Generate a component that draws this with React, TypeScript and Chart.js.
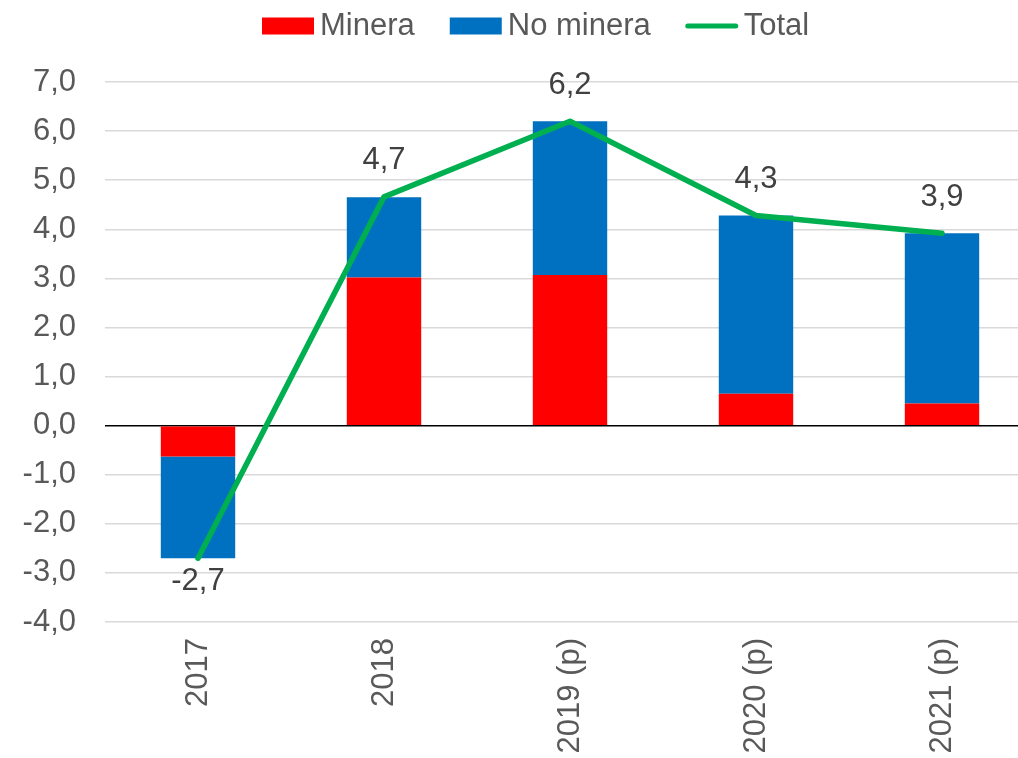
import React, { useEffect, useRef } from "react";
import { Chart, registerables } from "chart.js";

Chart.register(...registerables);

const categories = ["2017", "2018", "2019 (p)", "2020 (p)", "2021 (p)"];
const mineraValues = [-0.63, 3.02, 3.07, 0.65, 0.45];
const noMineraValues = [-2.07, 1.63, 3.13, 3.63, 3.47];
const totalValues = [-2.7, 4.66, 6.2, 4.28, 3.92];

const FONT = "'Liberation Sans', Arial, sans-serif";
const fmt = (v: number) => v.toFixed(1).replace(".", ",");

const legendPlugin = {
  id: "customLegend",
  afterDraw(chart: any) {
    const ctx = chart.ctx;
    ctx.save();
    ctx.font = `31px ${FONT}`;
    ctx.textBaseline = "middle";
    ctx.textAlign = "left";
    const cy = 26;
    let x = 262;
    const items = [
      { text: "Minera", color: "#FF0000", kind: "box" },
      { text: "No minera", color: "#0070C0", kind: "box" },
      { text: "Total", color: "#00B050", kind: "line" },
    ];
    items.forEach((it) => {
      if (it.kind === "box") {
        ctx.fillStyle = it.color;
        ctx.fillRect(x, cy - 8.5, 52, 17);
      } else {
        ctx.strokeStyle = it.color;
        ctx.lineWidth = 5;
        ctx.lineCap = "round";
        ctx.beginPath();
        ctx.moveTo(x + 2, cy);
        ctx.lineTo(x + 50, cy);
        ctx.stroke();
      }
      ctx.fillStyle = "#595959";
      ctx.fillText(it.text, x + 58, cy);
      x += 58 + ctx.measureText(it.text).width + 35;
    });
    ctx.restore();
  },
};

const labelPlugin = {
  id: "totalLabels",
  afterDatasetsDraw(chart: any) {
    const ctx = chart.ctx;
    const meta = chart.getDatasetMeta(2);
    ctx.save();
    ctx.font = `31px ${FONT}`;
    ctx.fillStyle = "#404040";
    ctx.textAlign = "center";
    ctx.textBaseline = "middle";
    meta.data.forEach((pt: any, i: number) => {
      const v = totalValues[i];
      const dy = v < 0 ? 23 : -36;
      ctx.fillText(fmt(v), pt.x, pt.y + dy);
    });
    ctx.restore();
  },
};

export default function App() {
  const ref = useRef<HTMLCanvasElement | null>(null);
  useEffect(() => {
    if (!ref.current) return;
    const chart = new Chart(ref.current, {
      type: "bar",
      data: {
        labels: categories,
        datasets: [
          {
            type: "bar",
            label: "Minera",
            data: mineraValues,
            backgroundColor: "#FF0000",
            stack: "a",
            order: 1,
            barPercentage: 0.4,
            categoryPercentage: 1,
          },
          {
            type: "bar",
            label: "No minera",
            data: noMineraValues,
            backgroundColor: "#0070C0",
            stack: "a",
            order: 1,
            barPercentage: 0.4,
            categoryPercentage: 1,
          },
          {
            type: "line",
            label: "Total",
            data: totalValues,
            borderColor: "#00B050",
            backgroundColor: "#00B050",
            borderWidth: 5.5,
            pointRadius: 0,
            borderCapStyle: "round",
            borderJoinStyle: "round",
            stack: "t",
            order: 0,
            tension: 0,
          },
        ],
      } as any,
      options: {
        responsive: false,
        animation: false,
        layout: { padding: { top: 82, left: 22, right: 0, bottom: 5 } },
        plugins: {
          legend: { display: false },
          tooltip: { enabled: false },
        },
        scales: {
          x: {
            stacked: true,
            offset: true,
            grid: { display: false, drawTicks: false },
            border: { display: false },
            afterFit: (s: any) => {
              s.height = 131;
            },
            ticks: {
              color: "#595959",
              font: { family: FONT, size: 31 },
              minRotation: 90,
              maxRotation: 90,
              padding: 16,
            },
          },
          y: {
            stacked: true,
            min: -4,
            max: 7,
            afterFit: (s: any) => {
              s.width = 83;
            },
            grid: {
              drawTicks: false,
              lineWidth: 1.5,
              color: (c: any) => (c.tick && c.tick.value === 0 ? "#000000" : "#D9D9D9"),
            },
            border: { display: false },
            ticks: {
              stepSize: 1,
              color: "#595959",
              font: { family: FONT, size: 31 },
              padding: 29,
              callback: (v: any) => fmt(Number(v)),
            },
          },
        },
      } as any,
      plugins: [legendPlugin, labelPlugin],
    });
    return () => chart.destroy();
  }, []);

  return (
    <div
      style={{
        position: "fixed",
        left: 0,
        top: 0,
        width: 1018,
        height: 758,
        overflow: "hidden",
        background: "#fff",
      }}
    >
      <canvas ref={ref} width={1035} height={758} style={{ display: "block" }} />
    </div>
  );
}
